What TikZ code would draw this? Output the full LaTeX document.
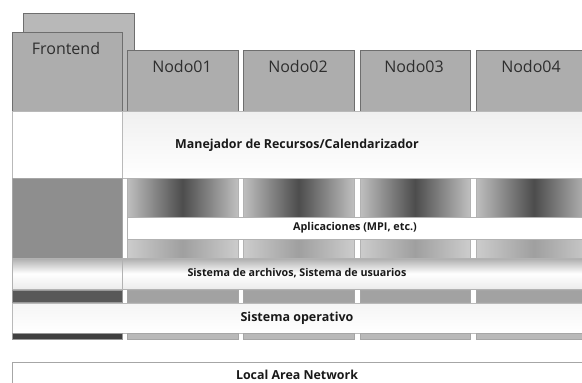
\documentclass[tikz,border=0pt]{standalone}
\usepackage{fontspec}
\setmainfont{Open Sans}
\definecolor{edge}{HTML}{6E6E6E}
\definecolor{tabfill}{HTML}{ADADAD}
\definecolor{backfill}{HTML}{B8B8B8}
\definecolor{colfill}{HTML}{8E8E8E}
\definecolor{darkstrip}{HTML}{585858}
\definecolor{midstrip}{HTML}{A2A2A2}
\definecolor{txt}{HTML}{2E2E2E}
\begin{document}
\begin{tikzpicture}[x=1pt,y=-1pt,
  tabbox/.style={draw=edge,line width=0.8pt,fill=tabfill},
  tablabel/.style={font=\fontsize{16}{18}\selectfont,text=txt},
  layer/.style={draw=gray!55,line width=0.8pt,fill=white},
  layerlabel/.style={text=black!90},
  colupper/.style={draw=gray!60,line width=0.5pt,left color=gray!50,right color=gray!50,middle color=black!70},
  collower/.style={draw=gray!60,line width=0.5pt,left color=gray!40,right color=gray!40,middle color=gray!75},
  stripcol/.style={draw=gray!70,line width=0.5pt,fill=midstrip},
  stripleft/.style={draw=gray!80,line width=0.5pt,fill=darkstrip}]
\useasboundingbox (0,0) rectangle (582,383);
\clip (0,0) rectangle (582,383);
% tabs
\fill[backfill,draw=edge,line width=0.8pt] (23,13) rectangle (134,111);
\node[tabbox,anchor=north west,minimum width=110pt,minimum height=79pt,inner sep=0pt] (fe) at (12,32) {};
\node[tablabel] (felbl) at (66,48) {Frontend};
\foreach \i/\a/\b in {1/127/238,2/243/354,3/360/470,4/476/592}{
  \pgfmathsetmacro{\w}{\b-\a}
  \node[tabbox,anchor=north west,minimum width=\w pt,minimum height=61pt,inner sep=0pt] (n\i) at (\a,50) {};
}
\node[tablabel] (l1) at (182,66) {Nodo01};
\node[tablabel] (l2) at (298,66) {Nodo02};
\node[tablabel] (l3) at (414,66) {Nodo03};
\node[tablabel] (l4) at (531,66) {Nodo04};
% resource manager band
\path[layer] (12,111) rectangle (122,178);
\path[layer,top color=gray!12,bottom color=white] (122,111) rectangle (590,178);
\node[layerlabel,font=\bfseries\fontsize{12.4}{14}\selectfont] (mgr) at (297,145) {Manejador de Recursos/Calendarizador};
% application columns
\fill[colfill,draw=gray!70,line width=0.5pt] (12,178) rectangle (122,258);
\foreach \a/\b in {127/238,243/354,360/470,476/592}{
  \path[colupper] (\a,178) rectangle (\b,217);
  \path[collower] (\a,239) rectangle (\b,258);
}
\path[layer,draw=gray!60] (127,217) rectangle (590,239);
\node[layerlabel,font=\bfseries\fontsize{10.8}{12}\selectfont] (apps) at (355,228) {Aplicaciones (MPI, etc.)};
% file system band
\path[draw=gray!60,line width=0.8pt,top color=gray!65,bottom color=gray!15,middle color=white] (12,258) rectangle (590,289);
\draw[gray!60,line width=0.8pt] (122,258) -- (122,289);
\node[layerlabel,font=\bfseries\fontsize{10.7}{12}\selectfont] (fs) at (297,273) {Sistema de archivos, Sistema de usuarios};
% strip
\path[stripleft] (12,290) rectangle (122,302);
\foreach \a/\b in {127/238,243/354,360/470,476/592}{
  \path[stripcol] (\a,290) rectangle (\b,302);
}
% operating system
\path[layer,top color=gray!8,bottom color=white] (12,303) rectangle (590,333);
\node[layerlabel,font=\bfseries\fontsize{12.5}{14}\selectfont] (os) at (297,318) {Sistema operativo};
\path[stripleft,fill=black!75] (12,333) rectangle (122,339);
\foreach \a/\b in {127/238,243/354,360/470,476/592}{
  \path[stripcol,fill=gray!55] (\a,333) rectangle (\b,339);
}
% LAN
\path[layer,draw=gray!70] (12,362) rectangle (590,395);
\node[layerlabel,font=\bfseries\fontsize{12.4}{14}\selectfont] (lan) at (297,375) {Local Area Network};
\end{tikzpicture}
\end{document}
